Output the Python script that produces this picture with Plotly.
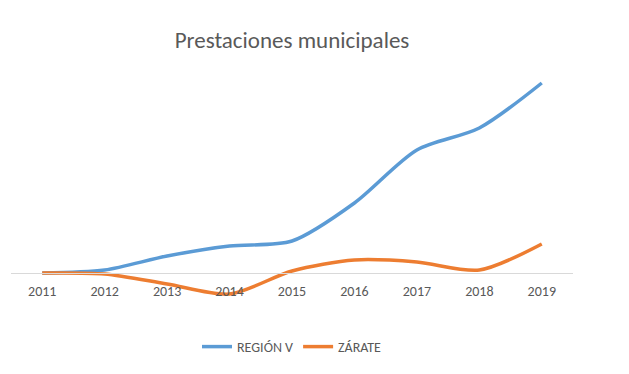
import plotly.graph_objects as go

years = ["2011", "2012", "2013", "2014", "2015", "2016", "2017", "2018", "2019"]
region_v = [0, 3, 17, 27, 32, 70, 123, 145, 190]
zarate = [0, -1, -11, -21, 2, 13, 11, 3, 29]

# page body has an 8px margin; compensate so the picture lands where the reference is
OFF = 8
W, H = 629 - OFF, 374 - OFF
mt, mb = 52, 60
plot_h = H - mt - mb
y_lo, y_hi = -41, 213
zero_pos = (0 - y_lo) / (y_hi - y_lo)

fig = go.Figure()
fig.add_trace(go.Scatter(x=years, y=region_v, name="REGIÓN V", mode="lines",
                         line=dict(color="#5B9BD5", width=3.5, shape="spline", smoothing=0.8)))
fig.add_trace(go.Scatter(x=years, y=zarate, name="ZÁRATE", mode="lines",
                         line=dict(color="#ED7D31", width=3.5, shape="spline", smoothing=0.8)))

fig.update_layout(
    width=W, height=H,
    margin=dict(l=3, r=56, t=mt, b=mb),
    paper_bgcolor="white", plot_bgcolor="white",
    font=dict(family="Carlito, Liberation Sans, sans-serif", color="#595959", size=12),
    title=dict(text="Prestaciones municipales", x=0.5, xref="paper", xanchor="center",
               y=1 - 32 / H, yanchor="middle",
               font=dict(size=23, color="#595959")),
    xaxis=dict(type="category", range=[-0.5, 8.5], showgrid=False, zeroline=False,
               anchor="free", position=zero_pos, showline=True, linecolor="#d9d9d9",
               linewidth=1, ticks="outside", ticklen=5, tickcolor="rgba(0,0,0,0)",
               tickfont=dict(size=14, color="#595959")),
    yaxis=dict(range=[y_lo, y_hi], visible=False, showgrid=False, zeroline=False),
    legend=dict(orientation="h", x=0.5, xanchor="center", xref="paper",
                y=-(339 - (H - mb)) / plot_h, yanchor="middle",
                font=dict(size=14, color="#595959"), bgcolor="rgba(0,0,0,0)"),
    showlegend=True,
)

fig.write_html("out.html")
